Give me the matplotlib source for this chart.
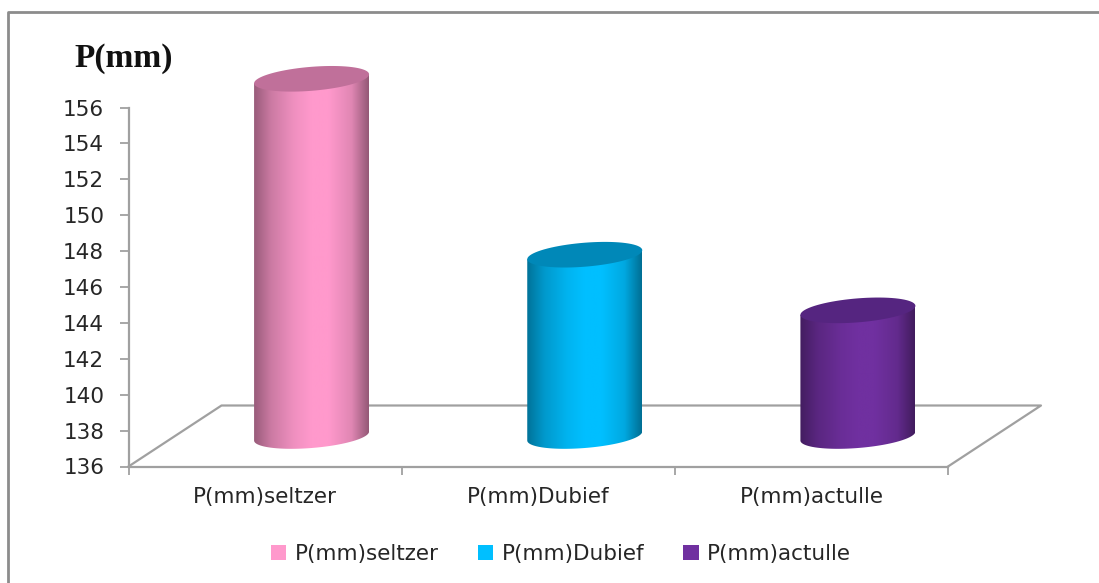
#!/usr/bin/python3

import numpy as np
import matplotlib

matplotlib.use("Agg")
import matplotlib.pyplot as plt
from matplotlib.colors import LinearSegmentedColormap
from matplotlib.lines import Line2D
from matplotlib.patches import Patch, Polygon

categories = ["P(mm)seltzer", "P(mm)Dubief", "P(mm)actulle"]
values = [155.9, 146.1, 143.0]
y_ticks = list(range(136, 158, 2))

body_colors = ["#FF99CC", "#00BFFF", "#7030A0"]
top_colors = ["#C0709A", "#0088B8", "#552580"]
shade_stops = [0.0, 0.15, 0.35, 0.5, 0.65, 0.85, 1.0]
shade_levels = [0.6, 0.8, 0.94, 1.0, 1.0, 0.88, 0.58]

GRAY = "#A0A0A0"
TEXT = "#262626"
WIDTH, HEIGHT = 1099, 583
AX_LEFT, AX_RIGHT, AX_TOP, AX_BOTTOM = 128.5, 948, 107.5, 466.5

plt.rcParams["font.family"] = ["DejaVu Sans"]

fig = plt.figure(figsize=(WIDTH / 100, HEIGHT / 100), dpi=100)
ax = fig.add_axes(
    [
        AX_LEFT / WIDTH,
        1 - AX_BOTTOM / HEIGHT,
        (AX_RIGHT - AX_LEFT) / WIDTH,
        (AX_BOTTOM - AX_TOP) / HEIGHT,
    ]
)
ax.patch.set_visible(False)

# size of one pixel in data units
px_x = 3.0 / (AX_RIGHT - AX_LEFT)
px_y = 20.0 / (AX_BOTTOM - AX_TOP)

# floor of the fake 3d box
depth_x = 93 * px_x
depth_y = 61 * px_y
floor_x = [-0.5, -0.5 + depth_x, 2.5 + depth_x, 2.5]
floor_y = [136, 136 + depth_y, 136 + depth_y, 136]
ax.plot(floor_x, floor_y, color=GRAY, lw=1.6, clip_on=False, zorder=1)


def ellipse(cx, cy, start, stop):
    t = np.linspace(start, stop, 81)
    x = cx + 57.5 * px_x * np.cos(t)
    y = cy + (12.0 * np.sin(t) + 4.5 * np.cos(t)) * px_y
    return x, y


for i, val in enumerate(values):
    cx = i + depth_x / 2
    base = 136 + depth_y / 2
    top = val + depth_y / 2
    color = np.array(matplotlib.colors.to_rgb(body_colors[i]))
    cmap = LinearSegmentedColormap.from_list(
        "shade", [(s, tuple(color * k)) for s, k in zip(shade_stops, shade_levels)]
    )

    top_x, top_y = ellipse(cx, top, 0, 2 * np.pi)
    front_x, front_y = ellipse(cx, base, 0, -np.pi)
    outline = np.vstack(
        [[top_x[0], top_y[0]], np.column_stack([front_x, front_y]), [top_x[40], top_y[40]]]
    )
    clip = Polygon(outline, closed=True, transform=ax.transData)

    im = ax.imshow(
        np.linspace(0, 1, 256).reshape(1, -1),
        cmap=cmap,
        aspect="auto",
        extent=[cx - 57.5 * px_x, cx + 57.5 * px_x, base - 20 * px_y, top + 20 * px_y],
        zorder=3,
    )
    # images get cut at the axes box otherwise
    im.set_clip_box(fig.bbox)
    im.set_clip_path(clip)

    ax.add_patch(
        Polygon(
            np.column_stack([top_x, top_y]),
            closed=True,
            facecolor=top_colors[i],
            edgecolor="none",
            clip_on=False,
            zorder=4,
        )
    )

ax.set_xlim(-0.5, 2.5)
ax.set_ylim(136, 156)

for side in ["top", "right"]:
    ax.spines[side].set_visible(False)
for side in ["left", "bottom"]:
    ax.spines[side].set_color(GRAY)
    ax.spines[side].set_linewidth(1.6)

ax.set_yticks(y_ticks)
ax.tick_params(axis="y", length=6.5, width=1.3, color=GRAY, labelcolor=TEXT, labelsize=15.5, pad=11)

# categories sit between the ticks
ax.set_xticks([-0.5, 0.5, 1.5, 2.5])
ax.set_xticklabels([])
ax.set_xticks([0, 1, 2], minor=True)
ax.set_xticklabels(categories, minor=True)
ax.tick_params(axis="x", which="major", length=6, width=1.3, color=GRAY)
ax.tick_params(axis="x", which="minor", length=0, labelcolor=TEXT, labelsize=15.5, pad=15)

fig.text(
    123.5 / WIDTH,
    1 - 58 / HEIGHT,
    "P(mm)",
    family="Liberation Serif",
    weight="bold",
    fontsize=24,
    color="#111111",
    ha="center",
    va="center",
)

handles = [Patch(facecolor=c, edgecolor="none") for c in body_colors]
fig.legend(
    handles,
    categories,
    loc="center",
    bbox_to_anchor=(561 / WIDTH, 1 - 554 / HEIGHT),
    ncol=3,
    frameon=False,
    fontsize=15.5,
    labelcolor=TEXT,
    handlelength=0.72,
    handleheight=0.72,
    handletextpad=0.4,
    columnspacing=1.8,
)

# outer chart frame
fig.add_artist(
    Line2D(
        [8 / WIDTH, 8 / WIDTH, 1],
        [0, 1 - 12 / HEIGHT, 1 - 12 / HEIGHT],
        color="#8C8C8C",
        lw=2,
        transform=fig.transFigure,
    )
)

fig.savefig("out.png", dpi=100)
